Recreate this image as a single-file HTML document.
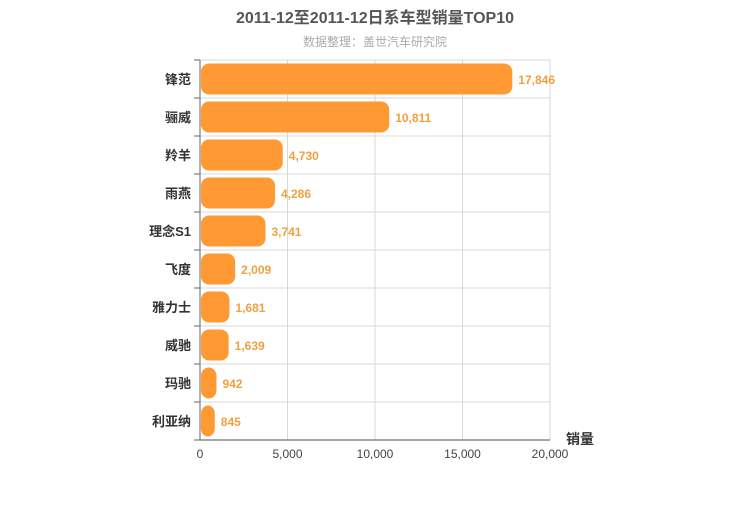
<!DOCTYPE html>
<html><head><meta charset="utf-8"><style>
body{margin:0;background:#fff;}
svg text{font-family:"Liberation Sans","Noto Sans CJK SC",sans-serif;}
</style></head><body>
<svg id="c" width="750" height="500" xmlns="http://www.w3.org/2000/svg">
<text x="375" y="23" text-anchor="middle" font-size="16" font-weight="bold" fill="#555">2011-12至2011-12日系车型销量TOP10</text>
<text x="375" y="46" text-anchor="middle" font-size="12" fill="#aaa">数据整理：盖世汽车研究院</text>
<g id="grid"></g><g id="bars"></g><g id="axes"></g>
<text x="580" y="444" text-anchor="middle" font-size="14" font-weight="bold" fill="#333">销量</text>
</svg>
<script>
const categories=["锋范","骊威","羚羊","雨燕","理念S1","飞度","雅力士","威驰","玛驰","利亚纳"];
const values=[17846,10811,4730,4286,3741,2009,1681,1639,942,845];
const ticks=[0,5000,10000,15000,20000];
const NS="http://www.w3.org/2000/svg";
const x0=200,x1=550,y0=60,y1=440,max=20000;
const xs=v=>x0+(v/max)*(x1-x0);
const rowH=(y1-y0)/categories.length;
function mk(t,a,p){const e=document.createElementNS(NS,t);for(const k in a)e.setAttribute(k,a[k]);p.appendChild(e);return e;}
const g=document.getElementById('grid'),b=document.getElementById('bars'),ax=document.getElementById('axes');
ticks.forEach(t=>{
 const l=mk('line',{x1:xs(t),x2:xs(t),y1:y0,y2:y1,stroke:'#d8d8d8'},g);
 
 
 const tx=mk('text',{x:xs(t),y:y1+18,'text-anchor':'middle','font-size':12,fill:'#444'},ax);
 tx.textContent=t.toLocaleString('en-US');
 
 
});
for(let i=0;i<=categories.length;i++){
 const y=y0+i*rowH;
 const l=mk('line',{x1:x0,x2:x1,y1:y,y2:y,stroke:'#d8d8d8'},g);
 
 
 const tk=mk('line',{x1:194,x2:x0,y1:y,y2:y,stroke:'#666'},ax);
 
 
}
categories.forEach((c,i)=>{
 const yc=y0+i*rowH+rowH/2;
 const w=xs(values[i])-x0;
 const r=mk('rect',{x:x0+1,y:yc-15.5,width:Math.max(w-1,0),height:31,rx:8,ry:8,fill:'#ff9933'},b);
 
 
 const v=mk('text',{x:x0+w+6,y:yc+5,'font-size':12,'font-weight':'bold',fill:'#f0a040'},b);
 v.textContent=values[i].toLocaleString('en-US');
 
 
 const lb=mk('text',{x:191,y:yc+5,'text-anchor':'end','font-size':13,'font-weight':'bold',fill:'#333'},ax);
 lb.textContent=c;
 
 
});
const ya=mk('line',{x1:x0,x2:x0,y1:y0,y2:y1,stroke:'#666'},ax);


const xa=mk('line',{x1:x0,x2:x1,y1:y1,y2:y1,stroke:'#888',"stroke-width":1.5},ax);


</script>
</body></html>
